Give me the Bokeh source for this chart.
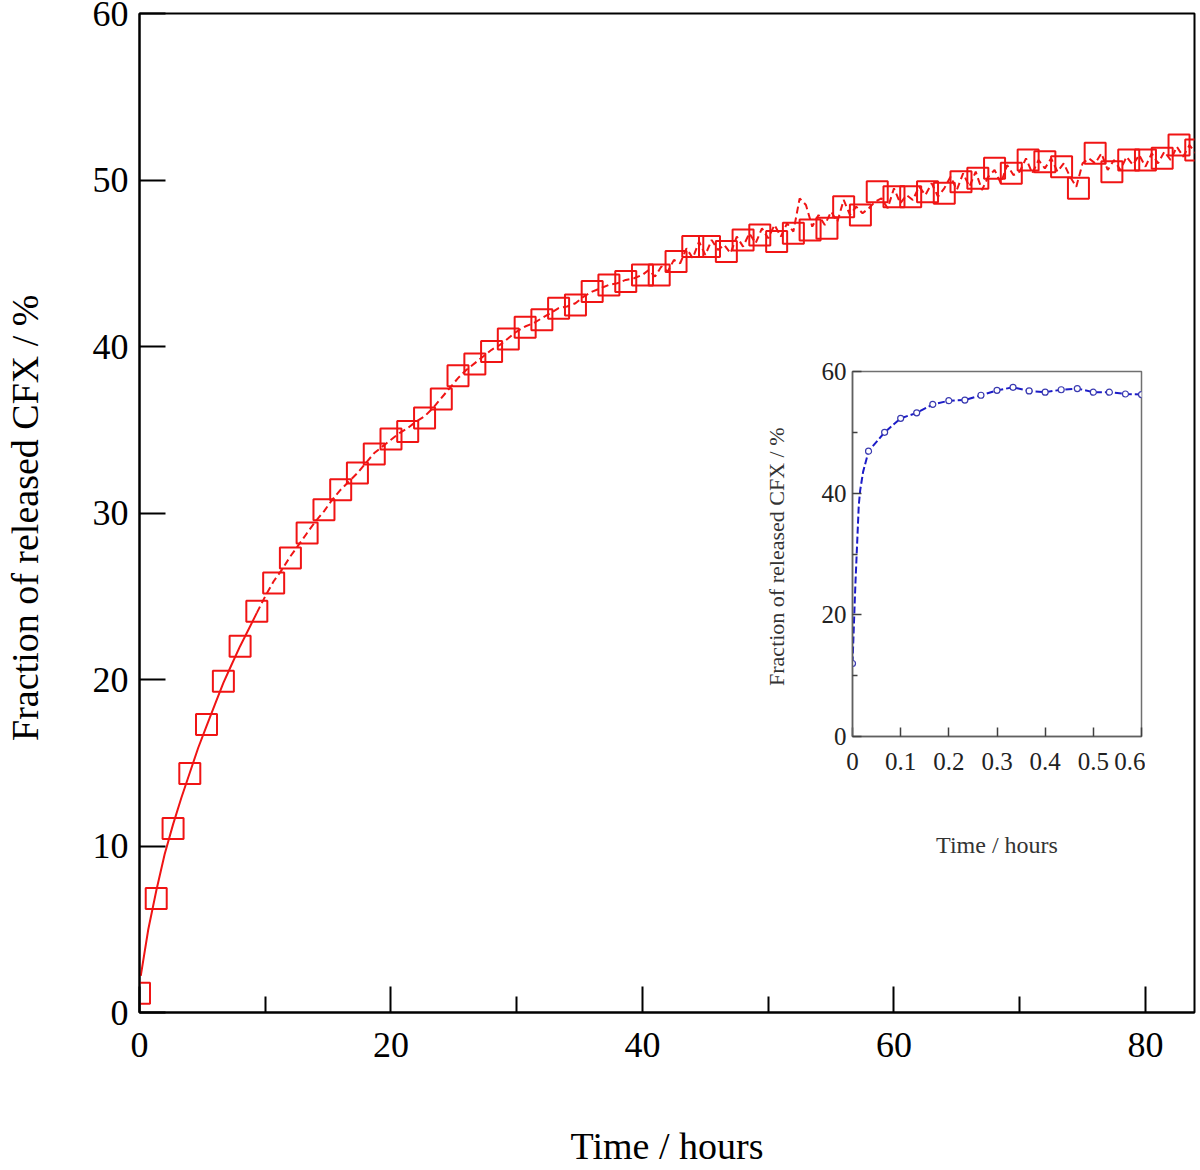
from bokeh.plotting import figure
from bokeh.models import Range1d, FixedTicker
from bokeh.layouts import column
from bokeh.embed import file_html
from bokeh.resources import INLINE

# ---------------- main chart data ----------------
sq_t = [0.0, 1.33, 2.67, 4.0, 5.33, 6.67, 8.0, 9.33, 10.67, 12.0,
        13.33, 14.67, 16.0, 17.33, 18.67, 20.0, 21.33, 22.67, 24.0, 25.33,
        26.67, 28.0, 29.33, 30.67, 32.0, 33.33, 34.67, 36.0, 37.33, 38.67,
        40.0, 41.33, 42.67, 44.0, 45.33, 46.67, 48.0, 49.33, 50.67, 52.0,
        53.33, 54.67, 56.0, 57.33, 58.67, 60.0, 61.33, 62.67, 64.0, 65.33,
        66.67, 68.0, 69.33, 70.67, 72.0, 73.33, 74.67, 76.0, 77.33, 78.67,
        80.0, 81.33, 82.67, 84.0]
sq_y = [1.15, 6.85, 11.05, 14.35, 17.3, 19.9, 22.0, 24.1, 25.8, 27.3,
        28.8, 30.2, 31.4, 32.4, 33.55, 34.45, 34.9, 35.7, 36.85, 38.25,
        38.95, 39.7, 40.45, 41.15, 41.6, 42.3, 42.5, 43.3, 43.7, 43.9,
        44.3, 44.3, 45.1, 46.0, 46.0, 45.7, 46.4, 46.7, 46.3, 46.8,
        47.0, 47.1, 48.4, 47.9, 49.3, 49.0, 49.0, 49.3, 49.2, 49.9,
        50.1, 50.7, 50.4, 51.2, 51.1, 50.8, 49.5, 51.6, 50.5, 51.2,
        51.2, 51.3, 52.1, 51.8]

solid_t = [0.1, 0.7, 1.33, 2.0, 2.67, 3.33, 4.0, 4.67, 5.33, 6.0,
           6.67, 7.33, 8.0, 8.67, 9.33]
solid_y = [2.2, 5.0, 7.3, 9.5, 11.3, 12.9, 14.4, 15.9, 17.2, 18.5,
           19.8, 20.9, 22.0, 23.0, 24.0]

dash_t = [9.33, 10.0, 10.67, 11.33, 12.0, 12.67, 13.33, 14.0, 14.67, 15.33,
          16.0, 16.67, 17.33, 18.0, 18.67, 19.33, 20.0, 20.67, 21.33, 22.0,
          22.67, 23.33, 24.0, 24.67, 25.33, 26.0, 26.67, 27.33, 28.0, 28.67,
          29.33, 30.0, 30.67, 31.33, 32.0, 32.67, 33.33, 34.0, 34.67, 35.33,
          36.0, 36.67, 37.33, 38.0, 38.67, 39.33, 40.0,
          40.5, 41.0, 41.5, 42.0, 42.5, 43.0, 43.5, 44.0, 44.5, 45.0,
          45.5, 46.0, 46.5, 47.0, 47.5, 48.0, 48.5, 49.0, 49.5, 50.0,
          50.5, 51.0, 51.5, 52.0, 52.5, 53.0, 53.5, 54.0, 54.5, 55.0,
          55.5, 56.0, 56.5, 57.0, 57.5, 58.0, 58.5, 59.0, 59.5, 60.0,
          60.5, 61.0, 61.5, 62.0, 62.5, 63.0, 63.5, 64.0, 64.5, 65.0,
          65.5, 66.0, 66.5, 67.0, 67.5, 68.0, 68.5, 69.0, 69.5, 70.0,
          70.5, 71.0, 71.5, 72.0, 72.5, 73.0, 73.5, 74.0, 74.5, 75.0,
          75.5, 76.0, 76.5, 77.0, 77.5, 78.0, 78.5, 79.0, 79.5, 80.0,
          80.5, 81.0, 81.5, 82.0, 82.5, 83.0, 83.5, 84.0]
dash_y = [24.0, 25.0, 25.9, 26.6, 27.4, 28.1, 28.8, 29.5, 30.1, 30.8,
          31.4, 31.9, 32.4, 33.0, 33.6, 34.0, 34.4, 34.8, 35.1, 35.5,
          35.8, 36.3, 36.9, 37.5, 38.1, 38.6, 39.0, 39.4, 39.8, 40.1,
          40.5, 40.9, 41.2, 41.4, 41.7, 42.0, 42.3, 42.4, 42.6, 43.0,
          43.3, 43.5, 43.7, 43.8, 44.0, 44.1, 44.3,
          44.6, 44.2, 44.8, 44.5, 45.2, 45.0, 45.9, 45.3, 46.3, 45.5,
          46.4, 45.8, 46.1, 45.6, 46.6, 46.0, 46.8, 46.2, 47.1, 46.5,
          47.3, 46.6, 47.4, 46.9, 48.9, 48.5, 47.2, 47.9, 47.3, 48.1,
          47.5, 48.8, 47.9, 48.4, 48.0, 48.3, 48.7, 48.9, 48.3, 49.5,
          48.6, 49.1, 48.8, 49.6, 49.1, 49.8, 49.0, 49.5, 50.2, 49.4,
          50.4, 49.6, 50.5, 49.4, 50.2, 50.6, 49.8, 50.9, 50.3, 50.5,
          51.3, 50.4, 51.2, 50.7, 51.3, 50.5, 51.0, 50.2, 49.6, 51.0,
          51.3, 51.0, 51.6, 50.6, 51.2, 50.6, 51.4, 50.9, 51.5, 50.8,
          51.6, 51.0, 51.7, 51.2, 52.0, 51.4, 52.1, 51.6]

main_xticks = [0, 20, 40, 60, 80]
main_xminor = [10, 30, 50, 70]
main_yticks = [0, 10, 20, 30, 40, 50, 60]

# ---------------- inset data ----------------
ins_t = [0.0, 0.0333, 0.0667, 0.1, 0.1333, 0.1667, 0.2, 0.2333, 0.2667, 0.3,
         0.3333, 0.3667, 0.4, 0.4333, 0.4667, 0.5, 0.5333, 0.5667, 0.6]
ins_y = [12.0, 46.9, 50.0, 52.3, 53.2, 54.6, 55.2, 55.3, 56.1, 56.9,
         57.4, 56.8, 56.6, 57.0, 57.2, 56.6, 56.6, 56.3, 56.2]
ins_line_t = [0.0, 0.006, 0.013, 0.016, 0.022, 0.0333, 0.0667, 0.1, 0.1333, 0.1667,
              0.2, 0.2333, 0.2667, 0.3, 0.3333, 0.3667, 0.4, 0.4333, 0.4667,
              0.5, 0.5333, 0.5667, 0.6]
ins_line_y = [12.0, 25.0, 38.0, 40.5, 43.5, 46.9, 50.0, 52.3, 53.2, 54.6,
              55.2, 55.3, 56.1, 56.9, 57.4, 56.8, 56.6, 57.0, 57.2,
              56.6, 56.6, 56.3, 56.2]
ins_xticks = [0, 0.1, 0.2, 0.3, 0.4, 0.5, 0.6]
ins_yticks = [0, 20, 40, 60]
ins_yminor = [10, 30, 50]

FONT = "Liberation Serif"
RED = "#f01414"
BLUE = "#1c1cc8"

# ---------------- main figure ----------------
p = figure(width=1198, height=1169, x_range=Range1d(0, 83.9), y_range=Range1d(0, 60),
           output_backend="svg", toolbar_location=None,
           min_border_left=139, min_border_right=4, min_border_top=13, min_border_bottom=157,
           x_axis_label="Time / hours", y_axis_label="Fraction of released CFX  / %")
p.grid.visible = False
p.outline_line_color = "black"
p.outline_line_width = 2
p.outline_line_alpha = 1
p.background_fill_color = "white"
p.border_fill_color = "white"

p.xaxis.ticker = FixedTicker(ticks=main_xticks, minor_ticks=main_xminor)
p.yaxis.ticker = FixedTicker(ticks=main_yticks, minor_ticks=[])
for ax in (p.xaxis[0], p.yaxis[0]):
    ax.axis_line_width = 2
    ax.axis_line_color = "black"
    ax.major_tick_in = 26
    ax.major_tick_out = 0
    ax.minor_tick_in = 16
    ax.minor_tick_out = 0
    ax.major_tick_line_width = 2
    ax.minor_tick_line_width = 2
    ax.major_tick_line_color = "black"
    ax.minor_tick_line_color = "black"
    ax.major_label_text_font = FONT
    ax.major_label_text_font_size = "36px"
    ax.major_label_text_color = "black"
    ax.axis_label_text_font = FONT
    ax.axis_label_text_font_size = "38px"
    ax.axis_label_text_font_style = "normal"
    ax.axis_label_text_color = "black"
p.xaxis.major_label_standoff = 20
p.xaxis.axis_label_standoff = 65
p.yaxis.major_label_standoff = 11
p.yaxis.axis_label_standoff = 44

p.line(solid_t, solid_y, line_color=RED, line_width=2)
p.line(dash_t, dash_y, line_color=RED, line_width=2, line_dash="7 4")
p.scatter(sq_t, sq_y, marker="square", size=21, fill_color=None,
          line_color=RED, line_width=2)

# ---------------- inset figure ----------------
ins = figure(width=432, height=519, x_range=Range1d(0, 0.6), y_range=Range1d(0, 60),
             output_backend="svg", toolbar_location=None,
             min_border_left=139, min_border_right=4, min_border_top=20, min_border_bottom=134,
             x_axis_label="Time / hours", y_axis_label="Fraction of released CFX  / %")
ins.grid.visible = False
ins.outline_line_color = "#707070"
ins.outline_line_width = 1.5
ins.background_fill_color = "white"
ins.border_fill_color = None
ins.xaxis.ticker = FixedTicker(ticks=ins_xticks, minor_ticks=[])
ins.yaxis.ticker = FixedTicker(ticks=ins_yticks, minor_ticks=ins_yminor)
for ax in (ins.xaxis[0], ins.yaxis[0]):
    ax.axis_line_width = 1.5
    ax.axis_line_color = "#606060"
    ax.major_tick_in = 9
    ax.major_tick_out = 0
    ax.minor_tick_in = 5
    ax.minor_tick_out = 0
    ax.major_tick_line_color = "#404040"
    ax.minor_tick_line_color = "#404040"
    ax.major_tick_line_width = 1.5
    ax.minor_tick_line_width = 1.5
    ax.major_label_text_font = FONT
    ax.major_label_text_font_size = "25px"
    ax.major_label_text_color = "#222222"
    ax.axis_label_text_font = FONT
    ax.axis_label_text_font_style = "normal"
    ax.axis_label_text_color = "#333333"
ins.xaxis.axis_label_text_font_size = "24px"
ins.yaxis.axis_label_text_font_size = "22px"
ins.xaxis.major_label_standoff = 16
ins.xaxis.axis_label_standoff = 59
ins.yaxis.major_label_standoff = 6
ins.yaxis.axis_label_standoff = 30

ins.line(ins_line_t, ins_line_y, line_color=BLUE, line_width=2, line_dash="7 3")
ins.scatter(ins_t, ins_y, marker="circle", size=6, fill_color="white",
            line_color="#3a3ab0", line_width=1.2)

ins.styles = {"position": "absolute", "left": "713px", "top": "351px", "z-index": "10"}

layout = column(p, ins)
layout.styles = {"position": "relative"}

open("out.html", "w").write(file_html(layout, INLINE))
